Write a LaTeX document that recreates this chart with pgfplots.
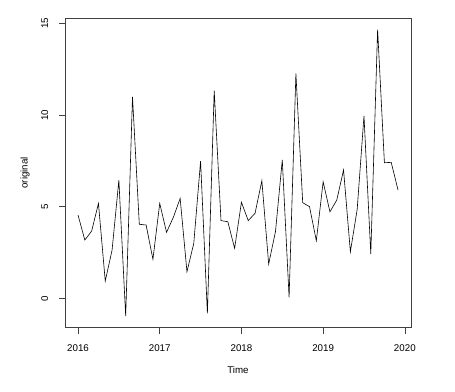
\documentclass[border=0pt]{standalone}
\usepackage{pgfplots}
\pgfplotsset{compat=1.18}
\usepackage{fontspec}
\setmainfont{Liberation Sans}
\begin{document}
\begin{tikzpicture}
\path[use as bounding box] (-65.2pt,-63.4pt) rectangle (389.8pt,327.6pt);
\begin{axis}[
  at={(0,0)}, anchor=south west,
  scale only axis, width=345.6pt, height=309.6pt,
  xmin=2015.843, xmax=2020.073, ymin=-1.6, ymax=15.3,
  xtick={2016,2017,2018,2019,2020}, ytick={0,5,10,15},
  xticklabels={2016,2017,2018,2019,2020}, yticklabels={0,5,10,15},
  xtick pos=bottom, ytick pos=left,
  tick align=outside, major tick length=6pt,
  axis line style={black!75, line width=0.6pt},
  every tick/.style={black!75, line width=0.6pt},
  tick label style={font=\fontsize{9.75}{11}\selectfont, inner sep=0pt},
  xticklabel style={anchor=north, yshift=-10.9pt},
  yticklabel style={rotate=90, anchor=south, yshift=10.9pt},
  xlabel={Time}, ylabel={original},
  label style={font=\fontsize{9.75}{11}\selectfont, inner sep=0pt},
  xlabel style={at={(axis description cs:0.5,0)}, anchor=center, yshift=-42.7pt},
  ylabel style={at={(axis description cs:0,0.5)}, anchor=center, yshift=40pt},
  clip=false,
]
\addplot[black, line width=0.6pt, mark=none] coordinates {
(2016.0000,4.54) (2016.0833,3.18) (2016.1667,3.67) (2016.2500,5.18) (2016.3333,0.94) (2016.4167,2.63)
(2016.5000,6.45) (2016.5833,-0.97) (2016.6667,11.00) (2016.7500,4.04) (2016.8333,4.00) (2016.9167,2.13)
(2017.0000,5.18) (2017.0833,3.60) (2017.1667,4.42) (2017.2500,5.45) (2017.3333,1.45) (2017.4167,3.00)
(2017.5000,7.49) (2017.5833,-0.82) (2017.6667,11.33) (2017.7500,4.24) (2017.8333,4.18) (2017.9167,2.73)
(2018.0000,5.24) (2018.0833,4.24) (2018.1667,4.64) (2018.2500,6.42) (2018.3333,1.87) (2018.4167,3.64)
(2018.5000,7.55) (2018.5833,0.05) (2018.6667,12.27) (2018.7500,5.22) (2018.8333,5.00) (2018.9167,3.14)
(2019.0000,6.36) (2019.0833,4.72) (2019.1667,5.36) (2019.2500,7.00) (2019.3333,2.54) (2019.4167,4.85)
(2019.5000,9.96) (2019.5833,2.42) (2019.6667,14.67) (2019.7500,7.40) (2019.8333,7.42) (2019.9167,5.91)
};
\end{axis}
\end{tikzpicture}
\end{document}
